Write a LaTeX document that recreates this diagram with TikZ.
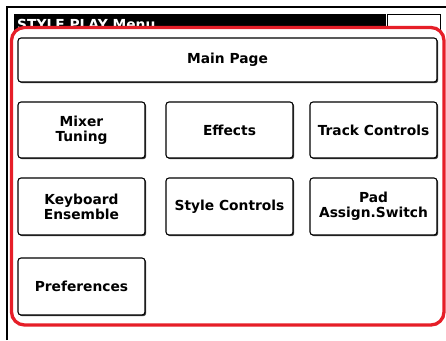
\documentclass[tikz,border=0pt]{standalone}
\usepackage{fontspec}
\setmainfont{DejaVu Sans}
\usetikzlibrary{shadows}
\begin{document}
\begin{tikzpicture}[x=1pt,y=-1pt,
  btn/.style={draw=black, line width=1.1pt, fill=white, rounded corners=3pt,
    inner sep=0pt, align=center, font=\fontsize{13.8}{15}\selectfont\bfseries,
    drop shadow={shadow xshift=1.2pt, shadow yshift=-1.2pt, fill=black!75, opacity=1}},
  redframe/.style={draw={rgb,255:red,230;green,30;blue,40}, line width=3.3pt, fill=white, rounded corners=13pt}]
\useasboundingbox (0,0) rectangle (446,340);
\fill[white] (0,0) rectangle (446,340);
% outer screen frame
\draw[line width=1.4pt] (7,340) -- (7,7) -- (446,7);
% title bar
\fill[black] (14,14) rectangle (386,33);
\node[anchor=base west, inner sep=0pt, text=white, font=\fontsize{13.8}{15}\selectfont\bfseries] (title) at (17,29.5) {STYLE PLAY Menu};
\draw[line width=1pt] (387.5,14.5) rectangle (440,33);
% red highlight frame
\draw[redframe] (11.5,27.5) rectangle (444,325);
% buttons
\node[btn, minimum width=419pt, minimum height=44pt] (main) at (227.5,60) {Main Page};
\node[btn, minimum width=127pt, minimum height=56pt] (mixer) at (81.5,130) {Mixer\\Tuning};
\node[btn, minimum width=127pt, minimum height=56pt] (effects) at (229.5,130) {Effects};
\node[btn, minimum width=127pt, minimum height=56pt] (track) at (373.5,130) {Track Controls};
\node[btn, minimum width=127pt, minimum height=57pt] (keyb) at (81.5,206.5) {Keyboard\\Ensemble};
\node[btn, minimum width=127pt, minimum height=57pt] (style) at (229.5,206.5) {Style Controls};
\node[btn, minimum width=127pt, minimum height=57pt] (pad) at (373.5,206.5) {Pad\\Assign.Switch};
\node[btn, minimum width=127pt, minimum height=57pt] (pref) at (81.5,286.5) {Preferences};
\end{tikzpicture}
\end{document}
